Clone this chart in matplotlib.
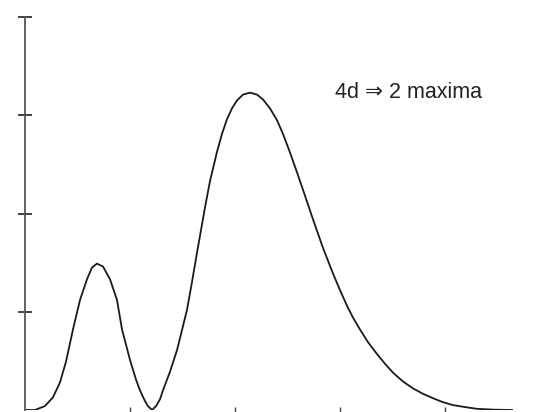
import matplotlib
matplotlib.use("Agg")
import matplotlib.pyplot as plt
import numpy as np

# radius (in Bohr radii) and radial probability
r_vals = [0.0, 0.95, 1.90, 2.67, 3.33, 3.90, 4.57, 5.24, 5.90, 6.38, 6.86, 7.43,
          8.10, 8.76, 9.24, 10.0, 10.57, 10.95, 11.43, 11.71, 12.1, 12.48, 12.86,
          13.14, 13.81, 14.48, 15.43, 15.90, 16.38, 17.14, 17.62, 18.29, 18.76,
          19.24, 19.71, 20.19, 20.76, 21.43, 22.10, 22.67, 23.33, 24.0, 24.57,
          25.24, 25.9, 26.48, 27.43, 28.38, 29.33, 30.0, 30.67, 31.24, 31.9,
          32.67, 33.52, 34.29, 35.05, 36.0, 36.95, 37.9, 38.86, 39.8, 40.76,
          41.9, 43.05, 44.76, 46.38]
prob_vals = [0.0, 0.0, 0.04, 0.13, 0.28, 0.49, 0.82, 1.12, 1.33, 1.45, 1.49, 1.46,
             1.33, 1.12, 0.82, 0.51, 0.31, 0.20, 0.09, 0.04, 0.0, 0.04, 0.11,
             0.20, 0.39, 0.61, 1.02, 1.30, 1.60, 2.06, 2.33, 2.63, 2.81,
             2.96, 3.07, 3.15, 3.21, 3.23, 3.21, 3.16, 3.07, 2.95, 2.81,
             2.62, 2.42, 2.24, 1.94, 1.65, 1.39, 1.22, 1.06, 0.94, 0.82,
             0.69, 0.57, 0.47, 0.38, 0.29, 0.22, 0.165, 0.12, 0.08, 0.05,
             0.03, 0.012, 0.003, 0.0]
x_ticks = [10, 20, 30, 40]
y_ticks = [1, 2, 3, 4]
label = "4d \u21d2 2 maxima"

W, H = 541, 412
fig = plt.figure(figsize=(W / 100, H / 100), dpi=100)
# axes placed in pixel terms: y axis at x=25px, baseline at y=410px, top tick at y=17px
ax = fig.add_axes([25 / W, 2 / H, 1 - 25 / W, (410 - 17) / H])
ax.set_xlim(0, (W - 25) / 10.5)
ax.set_ylim(0, 4)

ax.plot(r_vals, prob_vals, color="#1a1a1a", linewidth=1.3,
        solid_joinstyle="round", antialiased=True)

for s in ["top", "right", "bottom"]:
    ax.spines[s].set_visible(False)
ax.spines["left"].set_color("#555555")
ax.spines["left"].set_linewidth(1.3)

ax.set_xticks(x_ticks)
ax.set_yticks(y_ticks)
ax.set_xticklabels([])
ax.set_yticklabels([])
ax.tick_params(axis="x", direction="inout", length=5, width=1.0, color="#444444")
ax.tick_params(axis="y", direction="inout", length=10, width=1.3, color="#333333")
for t in ax.yaxis.get_major_ticks():
    t.tick1line.set_clip_on(False)

ax.text(335 / W, 1 - 93 / H, label, transform=fig.transFigure, ha="left", va="center",
        fontsize=15.5, color="#222222", family=["Liberation Sans", "DejaVu Sans"])

fig.savefig("out.png", dpi=100)
